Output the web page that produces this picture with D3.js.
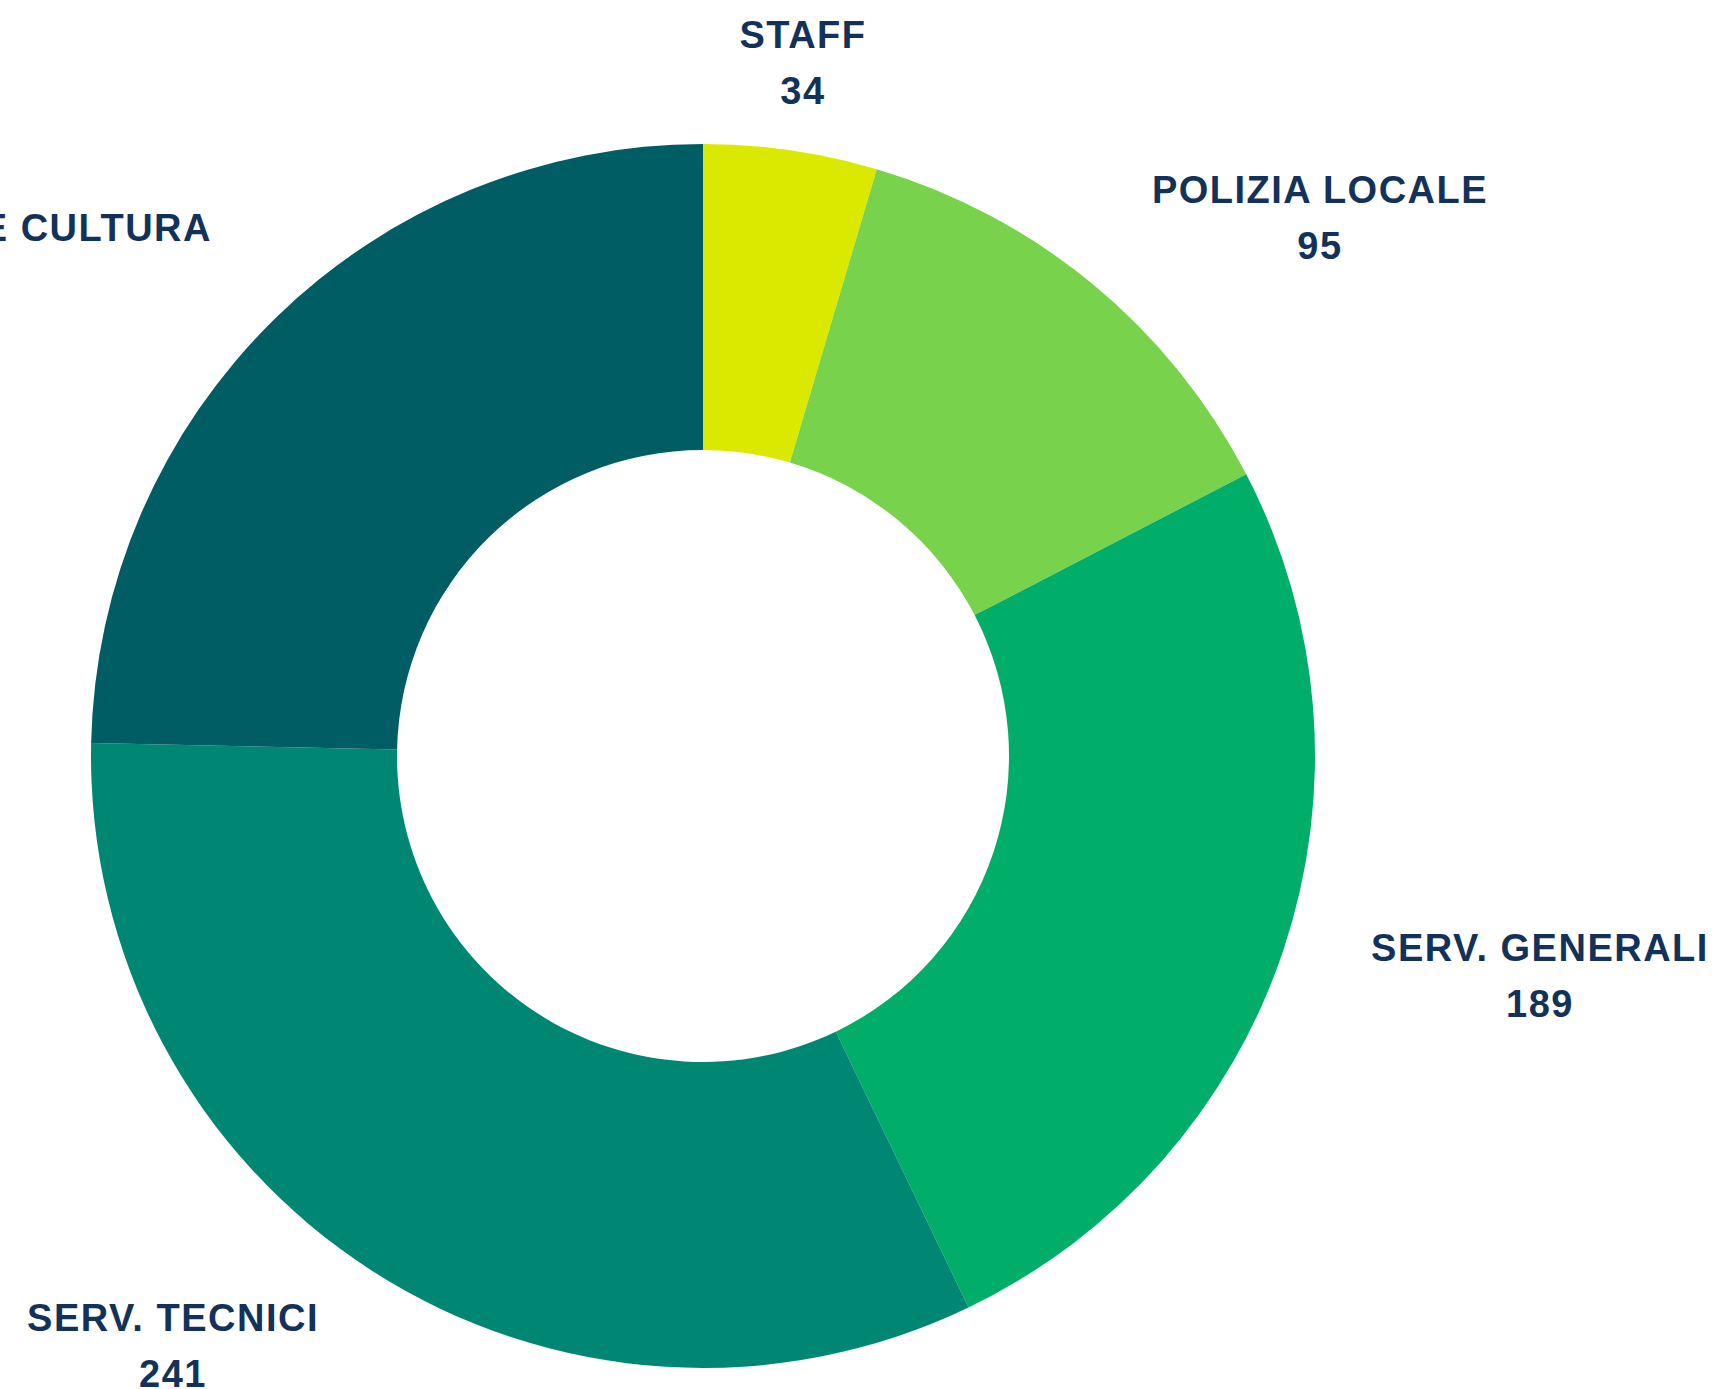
<!DOCTYPE html>
<html>
<head>
<meta charset="utf-8">
<script src="https://cdn.jsdelivr.net/npm/d3@7"></script>
<style>
  html, body { margin: 0; padding: 0; background: #ffffff; overflow: hidden; }
  svg { display: block; }
</style>
</head>
<body>
<div id="chart"></div>
<script>
// dati
const categories = ["STAFF", "POLIZIA LOCALE", "SERV. GENERALI", "SERV. TECNICI", "SERV. EDUCATIVI E CULTURA"];
const values = [34, 95, 189, 241, 183];
const colors = ["#dbe900", "#78d24b", "#00ad69", "#008774", "#005d63"];

// posizione etichette (centro testo, baseline prima riga)
const labelPos = [[803, 48], [1320, 203], [1540, 961], [173, 1331], [null, 241]];
const cultureRight = 212;

const width = 1718, height = 1389;
const cx = 703, cy = 756;
const outerR = 612, innerR = 306;

const svg = d3.select("#chart")
    .append("svg")
    .attr("width", width)
    .attr("height", height);

const g = svg.append("g")
    .attr("transform", `translate(${cx},${cy})`);

const data = categories.map((c, i) => ({ name: c, value: values[i], color: colors[i] }));

const pie = d3.pie()
    .value(d => d.value)
    .sort(null);

const arc = d3.arc()
    .innerRadius(innerR)
    .outerRadius(outerR);

g.selectAll(".slice")
    .data(pie(data))
    .enter()
    .append("path")
    .attr("class", "slice")
    .attr("d", arc)
    .attr("fill", d => d.data.color);

// etichette
const labels = svg.selectAll(".label")
    .data(data)
    .enter()
    .append("text")
    .attr("class", "label")
    .attr("text-anchor", "middle")
    .style("font-family", "'Liberation Sans', Arial, sans-serif")
    .style("font-weight", "bold")
    .style("font-size", "38px")
    .style("letter-spacing", "1.5px")
    .attr("fill", "#133259");

labels.append("tspan")
    .attr("class", "lname")
    .text(d => d.name);

labels.append("tspan")
    .attr("class", "lval")
    .text(d => d.value);

labels.each(function (d, i) {
    const t = d3.select(this);
    let x = labelPos[i][0];
    if (x === null) {
        const w = t.select(".lname").node().getComputedTextLength();
        x = cultureRight - w / 2;
    }
    const y = labelPos[i][1];
    t.select(".lname").attr("x", x).attr("y", y);
    t.select(".lval").attr("x", x).attr("y", y + 56);
});
</script>
</body>
</html>
